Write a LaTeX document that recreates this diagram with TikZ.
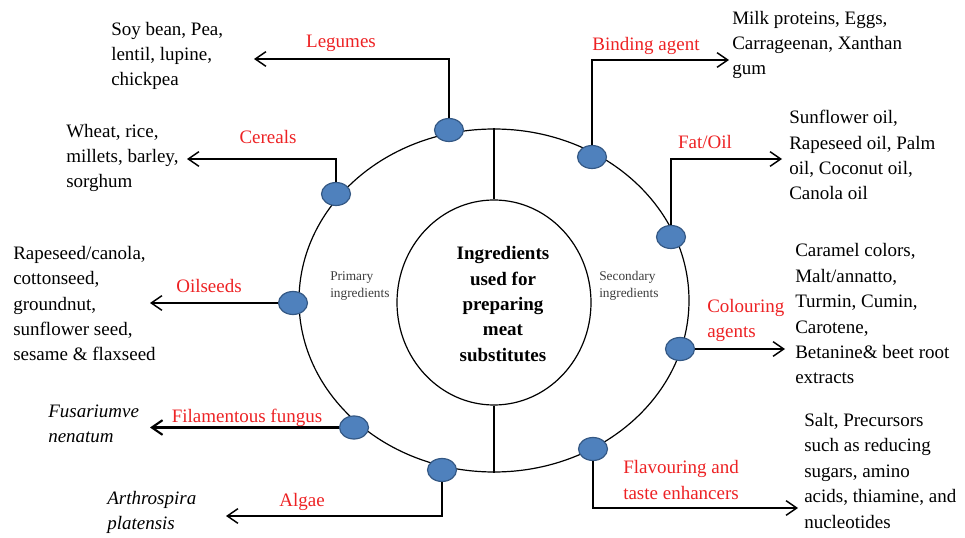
\documentclass[tikz,border=0pt]{standalone}
\usepackage{fontspec}
\setmainfont{Liberation Serif}
\usetikzlibrary{arrows.meta,shapes.geometric}
\definecolor{dotblue}{RGB}{79,129,189}
\definecolor{dotedge}{RGB}{52,88,132}
\definecolor{lblred}{RGB}{237,34,36}
\definecolor{sidegray}{RGB}{60,60,60}

\begin{document}
\begin{tikzpicture}[x=0.75pt,y=-0.75pt,
  every node/.style={font=\fontsize{14.25}{19.1}\selectfont},
  ring/.style={draw,ellipse,line width=0.9pt,inner sep=0},
  dot/.style={ellipse,fill=dotblue,draw=dotedge,line width=0.9pt,inner sep=0,minimum width=21.75pt,minimum height=17.25pt},
  arr/.style={line width=1.1pt,-{Straight Barb[length=8pt,width=11pt]}},
  lbl/.style={text=lblred,anchor=base,inner sep=0},
  lst/.style={anchor=base west,align=left,inner sep=0},
  side/.style={anchor=base west,align=left,inner sep=0,text=sidegray,font=\fontsize{10}{13.3}\selectfont}]
\useasboundingbox (0,0) rectangle (965,538);

% the two rings
\node[ring,minimum width=292.5pt,minimum height=257.25pt] (outer) at (494,300.5) {};
\node[ring,minimum width=145.5pt,minimum height=153.75pt] (inner) at (494,302.5) {};
\draw[line width=0.9pt] (outer.north) -- (inner.north);
\draw[line width=0.9pt] (inner.south) -- (outer.south);
\node[align=center,font=\fontsize{14.25}{19.1}\selectfont\bfseries] (hub) at (503,304) {Ingredients\\used for\\preparing\\meat\\substitutes};
% multi-line nodes sit on the baseline of their last line
\node[side] (prim) at (330,298) {Primary\\ingredients};
\node[side] (sec) at (599,298) {Secondary\\ingredients};

% dots on the ring
\node[dot] (legdot) at (449,130) {};
\node[dot] (cerdot) at (336,194) {};
\node[dot] (oildot) at (293,303) {};
\node[dot] (fundot) at (354,427.5) {};
\node[dot] (algdot) at (442,470) {};
\node[dot] (binddot) at (592,157) {};
\node[dot] (fatdot) at (671,237) {};
\node[dot] (coldot) at (680,349) {};
\node[dot] (flavdot) at (593,449) {};

% arrow ends
\coordinate (legtip) at (254,59);
\coordinate (certip) at (187,159);
\coordinate (oiltip) at (150,303);
\coordinate (funtip) at (150,427.5);
\coordinate (algtip) at (226,516);
\coordinate (bindtip) at (729,60);
\coordinate (fattip) at (782,159);
\coordinate (coltip) at (785,349);
\coordinate (flavtip) at (798,508);

\draw[arr] (legdot.north) |- (legtip);
\draw[arr] (cerdot.north) |- (certip);
\draw[arr] (oildot.west) -- (oiltip);
\draw[arr,line width=1.6pt] (fundot.west) -- (funtip);
\draw[arr] (algdot.south) |- (algtip);
\draw[arr] (binddot.north) |- (bindtip);
\draw[arr] (fatdot.north) |- (fattip);
\draw[arr] (coldot.east) -- (coltip);
\draw[arr] (flavdot.south) |- (flavtip);

% red labels
\node[lbl] (leglbl) at (341,48) {Legumes};
\node[lbl] (cerlbl) at (268,144) {Cereals};
\node[lbl] (oillbl) at (209,293) {Oilseeds};
\node[lbl] (funlbl) at (247,423) {Filamentous fungus};
\node[lbl] (alglbl) at (302,507) {Algae};
\node[lbl] (bindlbl) at (646,51) {Binding agent};
\node[lbl] (fatlbl) at (705,149) {Fat/Oil};
\node[lbl,anchor=base west,align=left] (collbl) at (707,338) {Colouring\\agents};
\node[lbl,anchor=base west,align=left] (flavlbl) at (623,499) {Flavouring and\\taste enhancers};

% lists
\node[lst] (legtxt) at (111,86) {Soy bean, Pea,\\lentil, lupine,\\chickpea};
\node[lst] (certxt) at (66,188) {Wheat, rice,\\millets, barley,\\sorghum};
\node[lst] (oiltxt) at (13,361) {Rapeseed/canola,\\cottonseed,\\groundnut,\\sunflower seed,\\sesame \& flaxseed};
\node[lst,font=\fontsize{14.25}{19.1}\selectfont\itshape] (funtxt) at (48,443) {Fusariumve\\nenatum};
\node[lst,font=\fontsize{14.25}{19.1}\selectfont\itshape] (algtxt) at (107,530) {Arthrospira\\platensis};
\node[lst] (bindtxt) at (732,75) {Milk proteins, Eggs,\\Carrageenan, Xanthan\\gum};
\node[lst] (fattxt) at (789,200) {Sunflower oil,\\Rapeseed oil, Palm\\oil, Coconut oil,\\Canola oil};
\node[lst] (coltxt) at (795,384) {Caramel colors,\\Malt/annatto,\\Turmin, Cumin,\\Carotene,\\Betanine\& beet root\\extracts};
\node[lst] (flavtxt) at (804,528) {Salt, Precursors\\such as reducing\\sugars, amino\\acids, thiamine, and\\nucleotides};
\end{tikzpicture}
\end{document}
